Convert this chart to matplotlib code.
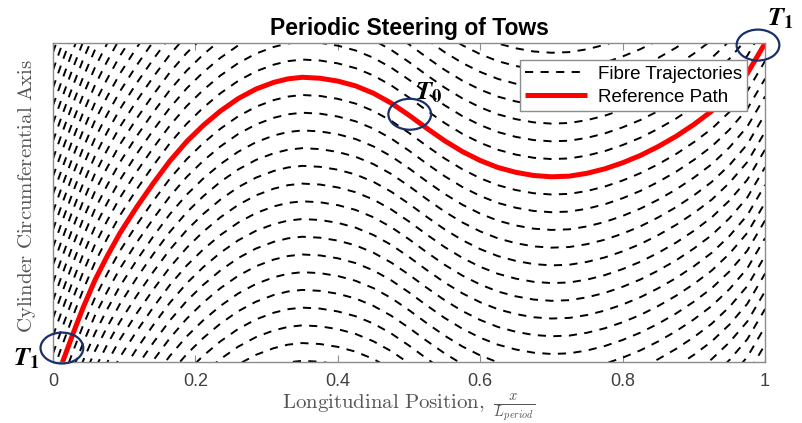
import matplotlib.pyplot as plt
import numpy as np
from matplotlib.patches import Ellipse

plt.rcParams["font.family"] = ["Liberation Sans", "DejaVu Sans"]
plt.rcParams["mathtext.fontset"] = "cm"

# reference path (x / L_period, normalised circumference)
path_x = [0.0, 0.0145, 0.0285, 0.0426, 0.059, 0.0754, 0.094, 0.1176, 0.141, 0.164, 0.188,
          0.211, 0.235, 0.26, 0.285, 0.31, 0.33, 0.35, 0.375, 0.4, 0.425, 0.45, 0.475, 0.5,
          0.525, 0.55, 0.575, 0.6, 0.625, 0.65, 0.675, 0.7, 0.725, 0.75, 0.775, 0.8, 0.825,
          0.85, 0.875, 0.9, 0.925, 0.95, 0.975, 1.0]
path_y = [-0.085, 0.006, 0.091, 0.172, 0.257, 0.329, 0.404, 0.486, 0.561, 0.63, 0.692,
          0.742, 0.787, 0.826, 0.856, 0.877, 0.888, 0.893, 0.89, 0.881, 0.866, 0.843, 0.812,
          0.774, 0.733, 0.694, 0.66, 0.632, 0.61, 0.595, 0.585, 0.581, 0.583, 0.592, 0.606,
          0.625, 0.648, 0.676, 0.708, 0.745, 0.787, 0.84, 0.905, 1.0]

# fibre trajectories are the reference path shifted round the circumference
fibres_per_period = 18
fibre_offsets = np.arange(-20, 21) / fibres_per_period

x_ticks = [0, 0.2, 0.4, 0.6, 0.8, 1]
x_tick_labels = ["0", "0.2", "0.4", "0.6", "0.8", "1"]

GREY = "#8c8c8c"
NAVY = "#1b2f6b"

fig = plt.figure(figsize=(8.02, 4.23), dpi=100)
ax = fig.add_axes([0.066, 0.144, 0.888, 0.754])

px = np.asarray(path_x)
py = np.asarray(path_y)
for i, off in enumerate(fibre_offsets):
    ax.plot(px, py + off, color="black", lw=1.4, linestyle=(0, (4.2, 3.8)),
            label="Fibre Trajectories" if i == 0 else None)
ax.plot(px, py, color="red", lw=3.6, label="Reference Path", solid_capstyle="butt")

ax.set_xlim(0, 1)
ax.set_ylim(0, 1)
ax.set_xticks(x_ticks)
ax.set_xticklabels(x_tick_labels)
ax.set_yticks([])
ax.tick_params(axis="x", direction="in", top=True, length=5, width=0.8, color=GREY,
               labelsize=13, labelcolor="#404040", pad=8)
for sp in ax.spines.values():
    sp.set_color(GREY)
    sp.set_linewidth(1.0)

ax.set_title("Periodic Steering of Tows", fontsize=16.5, fontweight="bold", pad=6)
ax.set_xlabel(r"$\mathrm{Longitudinal\ Position,}\ \frac{x}{L_{period}}$", fontsize=15,
              color="#555555", labelpad=1)
ax.set_ylabel(r"$\mathrm{Cylinder\ Circumferential\ Axis}$", fontsize=15, color="#555555")
ax.yaxis.set_label_coords(-0.021, 0.52)

leg = ax.legend(loc="upper right", bbox_to_anchor=(0.975, 0.947), borderaxespad=0,
                fontsize=13.5, handlelength=3.3, handletextpad=0.55, fancybox=False,
                framealpha=1, edgecolor=GREY, borderpad=0.3, labelspacing=0.3)
leg.get_frame().set_linewidth(1.0)

# markers for the start/end of the period
for cx, cy in [(0.0126, 0.044), (0.501, 0.777), (0.990, 0.994)]:
    ax.add_patch(Ellipse((cx, cy), 0.060, 0.097, fill=False, edgecolor=NAVY, lw=1.6,
                         clip_on=False, zorder=5))
for tx, ty, s in [(-0.037, 0.012, r"$\boldsymbol{T}_{\mathbf{1}}$"),
                  (0.527, 0.846, r"$\boldsymbol{T}_{\mathbf{0}}$"),
                  (1.021, 1.078, r"$\boldsymbol{T}_{\mathbf{1}}$")]:
    ax.text(tx, ty, s, fontsize=19, ha="center", va="center", math_fontfamily="stix",
            zorder=6)

fig.savefig("out.png", dpi=100)
